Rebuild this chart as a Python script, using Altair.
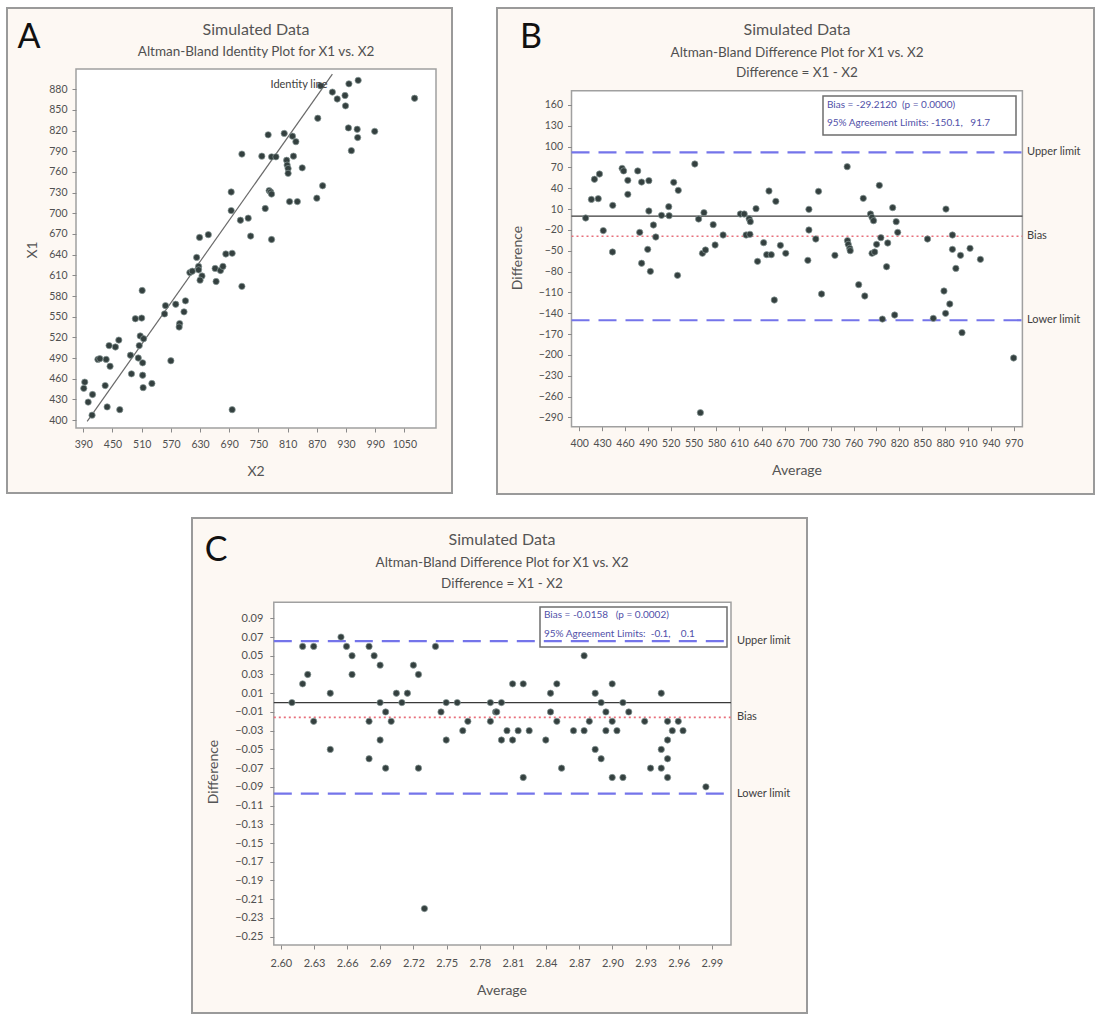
import altair as alt
import pandas as pd

W, H = 1101, 1018
FONT = "Lato"

# ---------------- Panel A : identity plot ----------------
a_x2 = [955, 936, 878, 902, 912, 928, 929, 1071, 872, 935, 953, 989, 954, 941,
        770, 803, 820, 827, 716, 757, 777, 786, 822, 808, 809, 811, 811, 840,
        882, 772, 775, 777, 870, 814, 830, 694, 694, 764, 713, 729, 734, 777,
        629, 647, 623, 627, 627, 609, 614, 634, 630, 661, 672, 677, 663, 683,
        696, 716, 559, 557, 580, 600, 597, 588, 587, 570, 511, 497, 510, 507,
        514, 505, 503, 512, 512, 513, 531, 487, 489, 463, 456, 443, 445, 420,
        437, 424, 435, 439, 465, 393, 391, 400, 409, 408, 696]
a_x1 = [893, 888, 885, 876, 866, 871, 856, 867, 838, 824, 822, 819, 810, 791,
        814, 816, 812, 804, 786, 783, 782, 782, 783, 777, 770, 765, 758, 766,
        740, 733, 731, 728, 722, 717, 717, 731, 704, 707, 690, 693, 667, 662,
        665, 669, 636, 623, 618, 614, 616, 609, 603, 620, 617, 623, 601, 641,
        642, 594, 566, 554, 568, 573, 557, 540, 535, 486, 588, 547, 548, 522,
        518, 508, 490, 483, 465, 447, 453, 494, 467, 516, 506, 508, 478, 488,
        488, 489, 450, 419, 415, 455, 446, 426, 437, 407, 415]
a_identity = [398, 902]
a_xticks = [390, 450, 510, 570, 630, 690, 750, 810, 870, 930, 990, 1050]
a_yticks = [400, 430, 460, 490, 520, 550, 580, 610, 640, 670, 700, 730, 760,
            790, 820, 850, 880]

# ---------------- Panel B : difference plot (raw) ----------------
b_avg = [408.5, 416, 420, 425, 426.6, 431.6, 444, 443.7, 456.3, 458.3, 463.8,
         463.8, 476.8, 479.4, 481.9, 481.9, 489.9, 491.4, 491.4, 493.4, 497.4,
         500.5, 508, 517.5, 518, 524, 530, 529, 551.7, 556.7, 559, 563.7, 561.7,
         565.7, 575.8, 578.3, 588.8, 611.5, 616.5, 623, 624.5, 619, 624, 632,
         642, 634, 649, 658, 646, 652, 656, 664, 671, 701.4, 701.4, 700, 710.4,
         714, 718, 735.5, 751.6, 752, 753, 755, 755.6, 766.7, 772.7, 774.7,
         782.2, 784.2, 786.2, 784.2, 787.7, 790.2, 793.8, 795.8, 797.8, 804.8,
         803.3, 811.3, 815.9, 817.9, 813.9, 857, 864.6, 881.2, 878.6, 880.7,
         886.2, 889.7, 889.7, 894.2, 900.3, 902.3, 912.8, 926.4, 970]
b_diff = [-2.8, 24, 53, 25, 60.6, -21, 15.4, -51.8, 68.7, 65, 51.5, 31.3, 65,
          -23.5, 49, -68, -48, 51, 7.3, -79.7, -12.9, -30.2, 1, 13.5, 0.5, 48.6,
          37, -85.4, 75, -4.3, -283.3, 4.9, -53.7, -48.9, -12.4, -41.7, -27.3,
          2.9, 2.9, -3.8, -8.1, -27.3, -26.3, 10.6, -38.4, -65.3, 36.1, 21.2,
          -55.7, -55.7, -121, -42.2, -53.7, 9.7, -20.1, -63.8, -33.1, 35.6,
          -112.3, -56.6, 71.1, -35.5, -40.8, -46.5, -49.9, -98.9, 25.5, -115.2,
          2.9, -1.9, -6.7, -53.7, -51.8, -40.8, 44.2, -31.2, -148.4, -38.8, -73,
          12.1, -8.1, -23.5, -142.6, -33.1, -147.4, 10.1, -108, -140.2, -126.7,
          -27.3, -48, -75.4, -56.6, -168, -46.5, -62.4, -204.5]
b_bias, b_upper, b_lower = -29.212, 91.7, -150.1
b_xticks = [400, 430, 460, 490, 520, 550, 580, 610, 640, 670, 700, 730, 760,
            790, 820, 850, 880, 910, 940, 970]
b_yticks = [160, 130, 100, 70, 40, 10, -20, -50, -80, -110, -140, -170, -200,
            -230, -260, -290]
b_box = ["Bias = -29.2120\u00a0\u00a0(p = 0.0000)",
         "95% Agreement Limits: -150.1,\u00a0\u00a0\u00a091.7"]

# ---------------- Panel C : difference plot (log) ----------------
c_avg = [2.610, 2.6197, 2.6197, 2.6243, 2.6297, 2.6297, 2.6447, 2.6447, 2.6544,
         2.6594, 2.6644, 2.6644, 2.6798, 2.6798, 2.6798, 2.6844, 2.6898, 2.6898,
         2.6898, 2.6948, 2.6948, 2.6998, 2.7045, 2.7095, 2.7145, 2.7199, 2.7245,
         2.7245, 2.7299, 2.7399, 2.7449, 2.7496, 2.7496, 2.7596, 2.7646, 2.7692,
         2.7896, 2.7896, 2.7943, 2.7953, 2.7996, 2.7996, 2.8046, 2.8097, 2.8097,
         2.8147, 2.8193, 2.8193, 2.8247, 2.8397, 2.8440, 2.8440, 2.8497, 2.8497,
         2.8540, 2.8648, 2.8744, 2.8744, 2.8791, 2.8844, 2.8844, 2.8898, 2.8898,
         2.8941, 2.8941, 2.8998, 2.8998, 2.8998, 2.9041, 2.9095, 2.9095, 2.9148,
         2.9292, 2.9345, 2.9442, 2.9442, 2.9442, 2.9499, 2.9499, 2.9499, 2.9499,
         2.9542, 2.9596, 2.9639, 2.9846]
c_diff = [0, 0.02, 0.06, 0.03, 0.06, -0.02, 0.01, -0.05, 0.07, 0.06, 0.05, 0.03,
          0.06, -0.02, -0.06, 0.05, 0.04, 0, -0.04, -0.01, -0.07, -0.02, 0.01, 0,
          0.01, 0.04, 0.03, -0.07, -0.22, 0.06, -0.01, 0, -0.04, 0, -0.03, -0.02,
          0, -0.02, -0.01, -0.01, 0, -0.04, -0.03, 0.02, -0.04, -0.03, 0.02,
          -0.08, -0.03, -0.04, 0.01, -0.01, 0.02, -0.02, -0.07, -0.03, 0.05,
          -0.03, -0.02, 0.01, -0.05, 0, -0.06, -0.01, -0.03, 0.02, -0.02, -0.08,
          -0.03, 0, -0.08, -0.01, -0.02, -0.07, 0.01, -0.05, -0.07, -0.02, -0.04,
          -0.06, -0.08, -0.03, -0.02, -0.03, -0.09]
c_bias, c_upper, c_lower = -0.0158, 0.0656, -0.0972
c_xticks = [2.60, 2.63, 2.66, 2.69, 2.72, 2.75, 2.78, 2.81, 2.84, 2.87, 2.90,
            2.93, 2.96, 2.99]
c_yticks = [0.09, 0.07, 0.05, 0.03, 0.01, -0.01, -0.03, -0.05, -0.07, -0.09,
            -0.11, -0.13, -0.15, -0.17, -0.19, -0.21, -0.23, -0.25]
c_box = ["Bias = -0.0158\u00a0\u00a0\u00a0(p = 0.0002)",
         "95% Agreement Limits:\u00a0\u00a0-0.1,\u00a0\u00a0\u00a0\u00a00.1"]

TITLE = "Simulated Data"
SUB_A = "Altman-Bland Identity Plot for X1 vs. X2"
SUB_D = "Altman-Bland Difference Plot for X1 vs. X2"
SUB_E = "Difference = X1 - X2"

# ---------------- layout (pixels) ----------------
LAY = {
    "A": dict(frame=(7, 8, 452, 493), plot=(76, 69, 436, 428),
              xdom=[375, 1115], ydom=[388.4, 909.5]),
    "B": dict(frame=(497, 8, 1094, 494), plot=(571.5, 90.7, 1022.4, 426.7),
              xdom=[389.9, 981.5], ydom=[-303.5, 180.6]),
    "C": dict(frame=(192, 518, 807, 1013), plot=(273.8, 602.3, 731, 945),
              xdom=[2.5936, 3.0073], ydom=[-0.2589, 0.1071]),
}

PT_FILL = "#34403f"
PT_EDGE = "#8a9a98"
LBL = "#505050"


def scales(k):
    l, t, r, b = LAY[k]["plot"]
    xs = alt.Scale(domain=LAY[k]["xdom"], range=[l, r], nice=False, zero=False)
    ys = alt.Scale(domain=LAY[k]["ydom"], range=[b, t], nice=False, zero=False)
    return xs, ys


def axes(k, xv, yv, fmt, lab_size=10.5, ypad=4, xpad=5):
    l, t, r, b = LAY[k]["plot"]
    common = dict(grid=False, domain=False, tickSize=4, tickColor="#8a8a8a",
                  tickWidth=1, labelFont=FONT, labelFontSize=lab_size,
                  labelColor=LBL, labelFlush=False, labelOverlap=False,
                  title=None, zindex=2, format=fmt)
    ax = alt.Axis(orient="bottom", offset=b - H, values=xv, labelPadding=xpad,
                  **common)
    ay = alt.Axis(orient="left", offset=-l, values=yv, labelPadding=ypad,
                  **common)
    return ax, ay


def txt(text, x, y, size, color=LBL, align="center", angle=0, font=FONT):
    return alt.Chart(pd.DataFrame({"t": [text]})).mark_text(
        align=align, baseline="middle", fontSize=size, color=color, font=font,
        angle=angle).encode(x=alt.value(x), y=alt.value(y), text="t:N")


def box(l, t, r, b, fill, stroke, sw, fill_opacity=1):
    return alt.Chart(pd.DataFrame({"a": [0]})).mark_rect(
        fill=fill, fillOpacity=fill_opacity, stroke=stroke, strokeWidth=sw
    ).encode(x=alt.value(l), x2=alt.value(r), y=alt.value(t), y2=alt.value(b))


def points(df, xs, ys, ax, ay):
    return alt.Chart(df).mark_circle(
        size=40, opacity=1, fill=PT_FILL, stroke=PT_EDGE, strokeWidth=0.7
    ).encode(x=alt.X("x:Q", scale=xs, axis=ax), y=alt.Y("y:Q", scale=ys, axis=ay))


def hline(k, value, color, width, dash, ys, ay):
    l, t, r, b = LAY[k]["plot"]
    mk = dict(color=color, strokeWidth=width)
    if dash:
        mk["strokeDash"] = dash
    return alt.Chart(pd.DataFrame({"y": [value]})).mark_rule(**mk).encode(
        x=alt.value(l), x2=alt.value(r), y=alt.Y("y:Q", scale=ys, axis=ay))


def side_label(k, text, value, ys, ay, xpix):
    return alt.Chart(pd.DataFrame({"y": [value], "t": [text]})).mark_text(
        align="left", baseline="middle", fontSize=11, color="#404040", font=FONT
    ).encode(x=alt.value(xpix), y=alt.Y("y:Q", scale=ys, axis=ay), text="t:N")


# ---------------- decorations (frames, plot areas) ----------------
decor = []
for k in "ABC":
    fl, ft, fr, fb = LAY[k]["frame"]
    decor.append(box(fl, ft, fr, fb, "#fdf8f3", "#9a9a9a", 2))
    pl, pt, pr, pb = LAY[k]["plot"]
    decor.append(box(pl, pt, pr, pb, "#ffffff", "#a0a0a0", 1.5))

# ---------------- Panel A ----------------
xsA, ysA = scales("A")
axA, ayA = axes("A", a_xticks, a_yticks, "d", ypad=5, xpad=7)
dfA = pd.DataFrame({"x": a_x2, "y": a_x1})
idA = alt.Chart(pd.DataFrame({"x": a_identity, "y": a_identity})).mark_line(
    color="#6a6a6a", strokeWidth=1.2).encode(
    x=alt.X("x:Q", scale=xsA, axis=axA), y=alt.Y("y:Q", scale=ysA, axis=ayA))
panelA = alt.layer(idA, points(dfA, xsA, ysA, axA, ayA))

# ---------------- Panel B ----------------
xsB, ysB = scales("B")
axB, ayB = axes("B", b_xticks, b_yticks, "d", ypad=5, xpad=8)
dfB = pd.DataFrame({"x": b_avg, "y": b_diff})
panelB = alt.layer(
    hline("B", 0, "#3a3a3a", 1.2, None, ysB, ayB),
    hline("B", b_bias, "#e8707c", 1.6, [2, 3], ysB, ayB),
    hline("B", b_upper, "#7474ea", 2.2, [18, 9], ysB, ayB),
    hline("B", b_lower, "#7474ea", 2.2, [18, 9], ysB, ayB),
    points(dfB, xsB, ysB, axB, ayB),
    side_label("B", "Upper limit", b_upper, ysB, ayB, 1027),
    side_label("B", "Bias", b_bias, ysB, ayB, 1027),
    side_label("B", "Lower limit", b_lower, ysB, ayB, 1027),
)

# ---------------- Panel C ----------------
xsC, ysC = scales("C")
axC, ayC = axes("C", c_xticks, c_yticks, ".2f", lab_size=11, ypad=7, xpad=8)
dfC = pd.DataFrame({"x": c_avg, "y": c_diff})
panelC = alt.layer(
    hline("C", 0, "#3a3a3a", 1.2, None, ysC, ayC),
    hline("C", c_bias, "#e8707c", 1.6, [2, 3], ysC, ayC),
    hline("C", c_upper, "#7474ea", 2.2, [18, 9], ysC, ayC),
    hline("C", c_lower, "#7474ea", 2.2, [18, 9], ysC, ayC),
    points(dfC, xsC, ysC, axC, ayC),
    side_label("C", "Upper limit", c_upper, ysC, ayC, 737),
    side_label("C", "Bias", c_bias, ysC, ayC, 737),
    side_label("C", "Lower limit", c_lower, ysC, ayC, 737),
)

# ---------------- texts ----------------
texts = [
    # panel letters
    txt("A", 29, 38, 34, color="#111111"),
    txt("B", 531, 38, 34, color="#111111"),
    txt("C", 216, 551, 34, color="#111111"),
    # titles
    txt(TITLE, 256, 30, 16, color="#555555"),
    txt(SUB_A, 256, 52, 13.5, color="#505050"),
    txt(TITLE, 797, 30, 16, color="#555555"),
    txt(SUB_D, 797, 53, 13.5, color="#505050"),
    txt(SUB_E, 797, 73, 13.5, color="#505050"),
    txt(TITLE, 502, 540, 16, color="#555555"),
    txt(SUB_D, 502, 563, 13.5, color="#505050"),
    txt(SUB_E, 502, 584, 13.5, color="#505050"),
    # axis titles
    txt("X2", 256, 472, 14, color="#555555"),
    txt("X1", 33, 250, 14, color="#555555", angle=270),
    txt("Average", 797, 471, 14, color="#555555"),
    txt("Difference", 518, 258, 14, color="#555555", angle=270),
    txt("Average", 502, 991, 14, color="#555555"),
    txt("Difference", 214, 772, 14, color="#555555", angle=270),
    # identity line label
    txt("Identity line", 299, 85, 11, color="#404040"),
    # agreement boxes
    box(823, 96, 1016, 135, "#ffffff", "#6e6e6e", 1.5, fill_opacity=0),
    txt(b_box[0], 827, 105, 10, color="#5050a8", align="left"),
    txt(b_box[1], 827, 123, 10, color="#5050a8", align="left"),
    box(540, 607, 727, 647, "#ffffff", "#6e6e6e", 1.5, fill_opacity=0),
    txt(c_box[0], 544, 615, 10, color="#5050a8", align="left"),
    txt(c_box[1], 544, 634, 10, color="#5050a8", align="left"),
]

chart = alt.layer(*decor, panelA, panelB, panelC, *texts).resolve_scale(
    x="independent", y="independent"
).properties(
    width=W, height=H, padding=0,
    autosize=alt.AutoSizeParams(type="none"), background="white"
).configure_view(strokeWidth=0)

chart.save("out.html", embed_options={"renderer": "svg", "actions": False})
